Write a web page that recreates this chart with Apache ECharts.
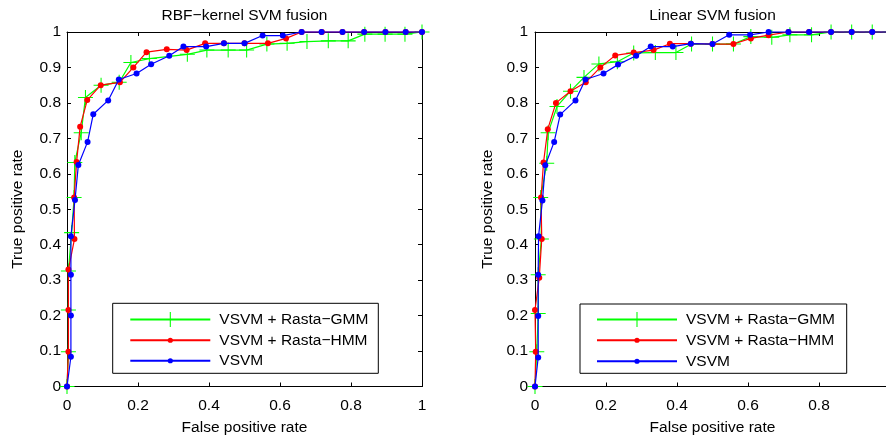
<!DOCTYPE html>
<html>
<head>
<meta charset="utf-8">
<script src="https://cdn.jsdelivr.net/npm/echarts@6/dist/echarts.min.js"></script>
<style>
html,body{margin:0;padding:0;background:#fff;}
#c{width:886px;height:441px;}
</style>
</head>
<body>
<div id="c"></div>
<script>
// ---- data ----
const panelTitles = ['RBF\u2212kernel SVM fusion', 'Linear SVM fusion'];
const seriesNames = ['VSVM + Rasta\u2212GMM', 'VSVM + Rasta\u2212HMM', 'VSVM'];
const xTickLabels = ['0', '0.2', '0.4', '0.6', '0.8', '1'];
const yTickLabels = ['0', '0.1', '0.2', '0.3', '0.4', '0.5', '0.6', '0.7', '0.8', '0.9', '1'];

const rbfGmmFpr = [0, 0.004, 0.004, 0.004, 0.013, 0.02, 0.022, 0.04, 0.052, 0.096, 0.147, 0.18, 0.232, 0.339, 0.394, 0.454, 0.506, 0.563, 0.62, 0.676, 0.736, 0.792, 0.839, 0.896, 0.952, 1.0];
const rbfGmmTpr = [0, 0.098, 0.216, 0.326, 0.434, 0.533, 0.632, 0.716, 0.815, 0.85, 0.858, 0.914, 0.925, 0.937, 0.949, 0.949, 0.949, 0.966, 0.968, 0.973, 0.975, 0.975, 0.994, 0.994, 0.994, 1.0];
const rbfHmmFpr = [0, 0.004, 0.004, 0.004, 0.021, 0.02, 0.027, 0.037, 0.057, 0.095, 0.149, 0.187, 0.224, 0.281, 0.337, 0.389, 0.442, 0.5, 0.566, 0.617, 0.661, 0.718, 0.776, 0.837, 0.897, 0.954, 1.0];
const rbfHmmTpr = [0, 0.098, 0.216, 0.33, 0.416, 0.533, 0.633, 0.733, 0.808, 0.85, 0.858, 0.9, 0.943, 0.951, 0.949, 0.968, 0.968, 0.968, 0.968, 0.982, 1, 1, 1, 1, 1, 1, 1];
const rbfVsvmFpr = [0, 0.011, 0.011, 0.011, 0.011, 0.0225, 0.032, 0.058, 0.074, 0.116, 0.146, 0.196, 0.237, 0.288, 0.328, 0.392, 0.442, 0.5, 0.551, 0.608, 0.661, 0.717, 0.776, 0.837, 0.897, 0.954, 1.0];
const rbfVsvmTpr = [0, 0.084, 0.2, 0.315, 0.424, 0.526, 0.625, 0.69, 0.768, 0.807, 0.866, 0.883, 0.909, 0.933, 0.959, 0.959, 0.968, 0.968, 0.99, 0.99, 1, 1, 1, 1, 1, 1, 1];

const linGmmFpr = [0, 0.005, 0.009, 0.009, 0.018, 0.016, 0.033, 0.037, 0.062, 0.1, 0.138, 0.18, 0.232, 0.278, 0.339, 0.397, 0.441, 0.5, 0.559, 0.608, 0.667, 0.718, 0.779, 0.834, 0.892, 0.95, 1.0];
const linGmmTpr = [0, 0.098, 0.206, 0.315, 0.416, 0.533, 0.63, 0.716, 0.79, 0.833, 0.872, 0.91, 0.916, 0.941, 0.942, 0.942, 0.966, 0.966, 0.966, 0.987, 0.985, 0.992, 0.992, 1, 1, 1, 1];
const linHmmFpr = [0, 0.002, 0, 0.012, 0.019, 0.017, 0.024, 0.036, 0.059, 0.1, 0.143, 0.184, 0.226, 0.278, 0.334, 0.38, 0.439, 0.5, 0.559, 0.608, 0.658, 0.714, 0.772, 0.834, 0.892, 0.95, 1.0];
const linHmmTpr = [0, 0.098, 0.216, 0.307, 0.416, 0.533, 0.632, 0.726, 0.8, 0.833, 0.858, 0.9, 0.934, 0.942, 0.949, 0.967, 0.967, 0.966, 0.966, 0.982, 0.991, 1, 1, 1, 1, 1, 1];
const linVsvmFpr = [0, 0.009, 0.009, 0.009, 0.01, 0.021, 0.029, 0.054, 0.071, 0.114, 0.142, 0.193, 0.234, 0.285, 0.326, 0.388, 0.439, 0.5, 0.547, 0.606, 0.658, 0.714, 0.772, 0.834, 0.892, 0.95, 1.0];
const linVsvmTpr = [0, 0.082, 0.199, 0.315, 0.424, 0.525, 0.624, 0.69, 0.767, 0.807, 0.866, 0.883, 0.908, 0.933, 0.959, 0.959, 0.967, 0.966, 0.992, 0.992, 1, 1, 1, 1, 1, 1, 1];

// ---- build chart ----
const FONT = 'Liberation Sans, Arial, Helvetica, sans-serif';
const FS = 15.5;
const colors = ['#00ff00', '#ff0000', '#0000ff'];
const plusPath = 'path://M0,9.3H20V10.7H0Z M9.3,0H10.7V20H9.3Z';
const symbols = [plusPath, 'circle', 'circle'];
const symbolSizes = [15, 6, 6];

const zip = (a, b) => a.map((v, i) => [v, b[i]]);
const panels = [
  [zip(rbfGmmFpr, rbfGmmTpr), zip(rbfHmmFpr, rbfHmmTpr), zip(rbfVsvmFpr, rbfVsvmTpr)],
  [zip(linGmmFpr, linGmmTpr), zip(linHmmFpr, linHmmTpr), zip(linVsvmFpr, linVsvmTpr)]
];

const gridLefts = [67, 535];
const PW = 355, PT = 32, PH = 354.5;

const grids = [], xAxes = [], yAxes = [], series = [], legends = [], graphics = [];
const black = '#000';

gridLefts.forEach((gl, p) => {
  grids.push({left: gl, top: PT, width: PW, height: PH, containLabel: false, outerBoundsMode: 'none'});
  xAxes.push({
    type: 'value', gridIndex: p, position: 'bottom', min: 0, max: 1, interval: 0.2,
    name: 'False positive rate', nameLocation: 'middle', nameGap: 33,
    nameTextStyle: {fontFamily: FONT, fontSize: FS, color: black},
    axisLine: {show: true, onZero: false, lineStyle: {color: black, width: 1}},
    axisTick: {show: true, inside: true, length: 4, lineStyle: {color: black}},
    axisLabel: {show: true, margin: 11, fontFamily: FONT, fontSize: FS, color: black,
      formatter: v => xTickLabels[Math.round(v / 0.2)]},
    splitLine: {show: false}
  });
  xAxes.push({
    type: 'value', gridIndex: p, position: 'top', min: 0, max: 1, interval: 0.2,
    name: panelTitles[p], nameLocation: 'middle', nameGap: 8,
    nameTextStyle: {fontFamily: FONT, fontSize: FS, color: black},
    axisLine: {show: true, onZero: false, lineStyle: {color: black, width: 1}},
    axisTick: {show: true, inside: true, length: 4, lineStyle: {color: black}},
    axisLabel: {show: false},
    splitLine: {show: false}
  });
  yAxes.push({
    type: 'value', gridIndex: p, position: 'left', min: 0, max: 1, interval: 0.1,
    name: 'True positive rate', nameLocation: 'middle', nameGap: p === 0 ? 41 : 39, nameRotate: 90,
    nameTextStyle: {fontFamily: FONT, fontSize: FS, color: black},
    axisLine: {show: true, onZero: false, lineStyle: {color: black, width: 1}},
    axisTick: {show: true, inside: true, length: 4, lineStyle: {color: black}},
    axisLabel: {show: true, margin: p === 0 ? 6 : 7, fontFamily: FONT, fontSize: FS, color: black,
      formatter: v => yTickLabels[Math.round(v / 0.1)]},
    splitLine: {show: false}
  });
  yAxes.push({
    type: 'value', gridIndex: p, position: 'right', min: 0, max: 1, interval: 0.1,
    axisLine: {show: true, onZero: false, lineStyle: {color: black, width: 1}},
    axisTick: {show: true, inside: true, length: 4, lineStyle: {color: black}},
    axisLabel: {show: false},
    splitLine: {show: false}
  });
  panels[p].forEach((d, s) => {
    series.push({
      type: 'line', name: seriesNames[s], id: 'p' + p + 's' + s,
      xAxisIndex: p * 2, yAxisIndex: p * 2, data: d,
      symbol: symbols[s], symbolSize: symbolSizes[s], showSymbol: true, showAllSymbol: true,
      clip: false, z: 2 + s,
      lineStyle: {color: colors[s], width: 1.2},
      itemStyle: {color: colors[s], borderWidth: 0},
      emphasis: {disabled: true}, animation: false
    });
  });
});

// legends: one per row so marker sizes can differ
const legendLineStart = [129.3, 596];
const legendRowCenters = [[321, 340, 360.5], [321, 340, 361]];
const legendItemH = [19, 6.5, 6.5];
gridLefts.forEach((gl, p) => {
  seriesNames.forEach((nm, s) => {
    const ih = legendItemH[s];
    const boxH = Math.max(ih, FS);
    legends.push({
      show: true, data: [nm], orient: 'vertical', selectedMode: false,
      left: legendLineStart[p], top: legendRowCenters[p][s] - boxH / 2,
      padding: 0, itemWidth: 80, itemHeight: ih, itemGap: 0,
      textStyle: {fontFamily: FONT, fontSize: FS, color: black, padding: [0, 0, 0, 4]},
      z: 10
    });
  });
});

graphics.push({type: 'rect', shape: {x: 112.7, y: 303.3, width: 265.6, height: 70}, style: {fill: '#fff', stroke: black, lineWidth: 1}, z: 5});
graphics.push({type: 'rect', shape: {x: 580, y: 304, width: 266.7, height: 69.3}, style: {fill: '#fff', stroke: black, lineWidth: 1}, z: 5});

const chart = echarts.init(document.getElementById('c'), null, {renderer: 'canvas'});
chart.setOption({
  animation: false,
  backgroundColor: '#fff',
  grid: grids, xAxis: xAxes, yAxis: yAxes, series: series,
  legend: legends,
  graphic: graphics
});
</script>
</body>
</html>
